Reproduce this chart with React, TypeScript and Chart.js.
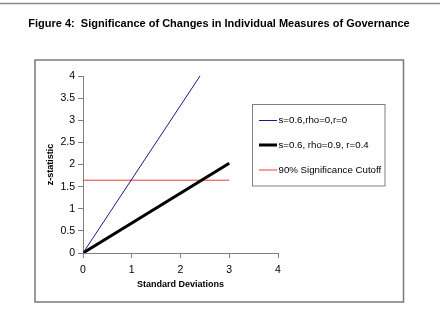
import React, { useEffect, useRef } from "react";
import { Chart, registerables } from "chart.js";

Chart.register(...registerables);

// Series data (x in standard deviations, y is the z-statistic)
const independentX = [0, 2.4];
const independentY = [0, 4];
const correlatedX = [0, 3];
const correlatedY = [0, 2.03];
const cutoffX = [0, 3];
const cutoffY = [1.645, 1.645];

const seriesLabels = [
  "s=0.6,rho=0,r=0",
  "s=0.6, rho=0.9, r=0.4",
  "90% Significance Cutoff",
];

const figureTitle = "Figure 4:  Significance of Changes in Individual Measures of Governance";
const xAxisTitle = "Standard Deviations";
const yAxisTitle = "z-statistic";

const FONT = "Arial, 'Liberation Sans', sans-serif";

const toPoints = (xs: number[], ys: number[]) => xs.map((x, i) => ({ x, y: ys[i] }));

// Page frame, heading and boxed legend
const decorations = {
  id: "decorations",
  beforeDraw(chart: any) {
    const ctx = chart.ctx;
    ctx.save();
    ctx.fillStyle = "#fff";
    ctx.fillRect(0, 0, chart.width, chart.height);
    ctx.strokeStyle = "#8a8a8a";
    ctx.lineWidth = 1.3;
    ctx.beginPath();
    ctx.moveTo(0, 3.5);
    ctx.lineTo(chart.width, 3.5);
    ctx.stroke();
    ctx.strokeStyle = "#7a7a7a";
    ctx.lineWidth = 1.5;
    ctx.strokeRect(35, 60, 368.5, 242);
    ctx.fillStyle = "#000";
    ctx.font = `bold 11px ${FONT}`;
    ctx.textAlign = "center";
    ctx.textBaseline = "alphabetic";
    ctx.fillText(figureTitle, 219, 27);
    ctx.restore();
  },
  afterDraw(chart: any) {
    const ctx = chart.ctx;
    ctx.save();
    ctx.strokeStyle = "#808080";
    ctx.lineWidth = 1;
    ctx.strokeRect(252.5, 104.5, 132.5, 81.5);
    const rows = [120.5, 145, 170];
    ctx.font = `9.7px ${FONT}`;
    ctx.textBaseline = "middle";
    ctx.textAlign = "left";
    chart.data.datasets.forEach((ds: any, i: number) => {
      const y = rows[i];
      ctx.strokeStyle = ds.borderColor;
      ctx.lineWidth = ds.borderWidth;
      ctx.beginPath();
      ctx.moveTo(259, y);
      ctx.lineTo(277, y);
      ctx.stroke();
      ctx.fillStyle = "#000";
      ctx.fillText(ds.label, 278.5, y);
    });
    ctx.restore();
  },
};

export default function App() {
  const canvasRef = useRef<HTMLCanvasElement | null>(null);

  useEffect(() => {
    const canvas = canvasRef.current;
    if (!canvas) return;
    const plainNumber = (v: any) => String(Number(v));
    const chart = new Chart(canvas, {
      type: "scatter",
      data: {
        datasets: [
          {
            label: seriesLabels[0],
            data: toPoints(independentX, independentY),
            showLine: true,
            borderColor: "#1a1a8c",
            borderWidth: 1,
            pointRadius: 0,
          },
          {
            label: seriesLabels[1],
            data: toPoints(correlatedX, correlatedY),
            showLine: true,
            borderColor: "#000",
            borderWidth: 3,
            pointRadius: 0,
          },
          {
            label: seriesLabels[2],
            data: toPoints(cutoffX, cutoffY),
            showLine: true,
            borderColor: "#f03c3c",
            borderWidth: 1,
            pointRadius: 0,
          },
        ],
      },
      options: {
        responsive: false,
        animation: false,
        devicePixelRatio: 1,
        layout: { padding: { left: 35, top: 76, right: 162, bottom: 33 } },
        plugins: {
          legend: { display: false },
          tooltip: { enabled: false },
          title: { display: false },
        },
        scales: {
          x: {
            type: "linear",
            min: 0,
            max: 4,
            ticks: { stepSize: 1, color: "#000", font: { family: FONT, size: 10.5 }, padding: 6, callback: plainNumber },
            grid: { drawOnChartArea: false, tickLength: 5, color: "#808080" },
            border: { color: "#808080", width: 1 },
            title: {
              display: true,
              text: xAxisTitle,
              color: "#000",
              font: { family: FONT, size: 9, weight: "bold" },
              padding: { top: 0, bottom: 12 },
            },
            afterFit: (scale: any) => {
              scale.height = 49;
            },
          },
          y: {
            type: "linear",
            min: 0,
            max: 4,
            ticks: { stepSize: 0.5, color: "#000", font: { family: FONT, size: 10.5 }, padding: 3, callback: plainNumber },
            grid: { drawOnChartArea: false, tickLength: 5, color: "#808080" },
            border: { color: "#808080", width: 1 },
            title: {
              display: true,
              text: yAxisTitle,
              color: "#000",
              font: { family: FONT, size: 9, weight: "bold" },
              padding: { top: 10, bottom: 0 },
            },
            afterFit: (scale: any) => {
              scale.width = 48;
            },
          },
        },
      },
      plugins: [decorations],
    } as any);
    return () => chart.destroy();
  }, []);

  return (
    <div style={{ position: "absolute", left: 0, top: 0, width: 440, height: 335 }}>
      <canvas ref={canvasRef} width={440} height={335} />
    </div>
  );
}
